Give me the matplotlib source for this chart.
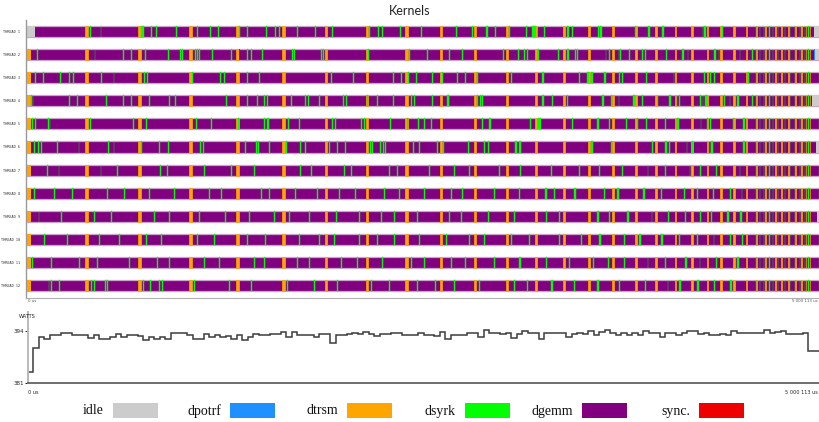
import matplotlib
matplotlib.use("Agg")
import matplotlib.pyplot as plt
from matplotlib.patches import Rectangle
import numpy as np

# time in ms, trace runs 0 -> 5 000 113 us
T_END = 5000.113

kinds = ["idle", "dpotrf", "dtrsm", "dsyrk", "dgemm", "sync."]
kind_colors = ["#cccccc", "#1e90ff", "#ffa500", "#00ff00", "#800080", "#ee0000"]
colors = dict(zip(kinds, kind_colors))

thread_names = ["THREAD %d" % i for i in range(1, 13)]

# dtrsm columns, shared by all threads (start ms, duration ms)
dtrsm_cols = [(372, 22), (707, 17), (1029, 17), (1325, 17), (1615, 17), (1887, 14),
              (2145, 14), (2392, 14), (2612, 13), (2827, 13), (3029, 13), (3212, 12),
              (3389, 12), (3546, 11), (3698, 11), (3843, 11), (3969, 10), (4089, 10),
              (4196, 10), (4291, 10), (4379, 9), (4461, 9), (4537, 9), (4600, 7),
              (4657, 7), (4720, 7), (4758, 6), (4802, 6), (4846, 6), (4884, 6),
              (4915, 5), (4941, 5)]

# dense dsyrk bursts at the end of the run
dsyrk_tail = [(4600, 4), (4625, 5), (4651, 4), (4688, 6), (4707, 4), (4739, 5),
              (4783, 4), (4815, 5), (4846, 4), (4878, 5), (4909, 4), (4930, 4)]

dsyrk = [
    # thread 1
    [(404, 7), (471, 3), (726, 19), (789, 8), (820, 9), (947, 3), (1079, 3), (1161, 7),
     (1212, 7), (1344, 3), (1395, 7), (1514, 7), (1571, 3), (1596, 7), (1710, 3),
     (1824, 7), (1931, 7), (2164, 3), (2221, 7), (2246, 7), (2360, 3), (2493, 3),
     (2713, 7), (2814, 3), (2903, 7), (2959, 3), (3048, 3), (3155, 3), (3193, 7),
     (3206, 7), (3269, 3), (3414, 7), (3445, 3), (3609, 7), (3622, 7), (3843, 3),
     (3925, 7), (4013, 7), (4266, 3), (4278, 7), (4386, 7)],
    # thread 2
    [(69, 7), (435, 3), (612, 3), (663, 3), (751, 7), (896, 3), (972, 7), (984, 3),
     (1066, 3), (1079, 7), (1092, 3), (1174, 3), (1294, 3), (1395, 7), (1420, 7),
     (1489, 7), (1679, 7), (1691, 7), (1861, 3), (1874, 3), (2158, 3), (2417, 3),
     (2530, 3), (2669, 7), (2751, 3), (3010, 7), (3105, 3), (3142, 3), (3161, 7),
     (3231, 3), (3357, 3), (3414, 7), (3464, 3), (3477, 3), (3654, 3), (3673, 7),
     (3736, 3), (3748, 3), (3799, 7), (3887, 3), (3900, 7), (4038, 3), (4139, 7),
     (4171, 3), (4341, 7), (4367, 3), (4499, 3), (4575, 7)],
    # thread 3
    [(57, 7), (107, 7), (215, 3), (271, 7), (297, 7), (473, 7), (555, 3), (745, 3),
     (764, 7), (1047, 3), (1224, 7), (1249, 7), (1395, 3), (1470, 3), (1925, 7),
     (2063, 7), (2316, 3), (2366, 3), (2410, 7), (2461, 7), (2562, 3), (2625, 7),
     (2720, 7), (2770, 3), (2846, 7), (3060, 7), (3256, 7), (3489, 3), (3540, 7),
     (3565, 7), (3647, 7), (3736, 7), (3761, 3), (3912, 3), (4083, 3), (4278, 3),
     (4310, 7), (4335, 7), (4550, 7)],
    # thread 4
    [(32, 3), (44, 3), (271, 7), (322, 3), (505, 3), (612, 3), (663, 3), (776, 7),
     (902, 3), (940, 3), (1262, 7), (1395, 3), (1458, 3), (1502, 7), (1521, 7),
     (1672, 3), (1760, 3), (1779, 3), (1849, 3), (2000, 7), (2019, 3), (2152, 7),
     (2215, 7), (2316, 3), (2429, 7), (2448, 7), (2562, 3), (2657, 7), (2663, 3),
     (2846, 3), (2865, 3), (2877, 3), (3256, 7), (3319, 3), (3414, 3), (3635, 7),
     (3691, 3), (3736, 3), (3830, 7), (3881, 7), (3982, 3), (4057, 7), (4102, 3),
     (4120, 3), (4247, 7), (4266, 3), (4284, 7), (4398, 7), (4436, 3), (4486, 7),
     (4575, 7)],
    # thread 5
    [(38, 3), (57, 7), (139, 3), (151, 3), (404, 7), (675, 7), (757, 3), (1073, 7),
     (1167, 3), (1338, 7), (1502, 7), (1521, 9), (1653, 7), (1723, 7), (1931, 3),
     (1950, 3), (2114, 7), (2133, 7), (2297, 3), (2404, 7), (2474, 3), (2511, 7),
     (2556, 3), (2877, 3), (2922, 7), (3180, 7), (3231, 7), (3243, 7), (3445, 3),
     (3603, 7), (3679, 3), (3786, 3), (3855, 3), (3912, 3), (4032, 3), (4102, 7),
     (4114, 3), (4253, 3), (4291, 7), (4310, 7), (4455, 7), (4524, 7)],
    # thread 6
    [(50, 7), (76, 3), (95, 3), (196, 7), (334, 3), (517, 7), (555, 3), (726, 7),
     (839, 3), (896, 3), (1098, 3), (1117, 7), (1382, 7), (1451, 7), (1464, 3),
     (1533, 3), (1641, 3), (1729, 3), (1760, 7), (1912, 7), (1962, 3), (2013, 3),
     (2171, 3), (2183, 7), (2234, 3), (2253, 3), (2265, 3), (2442, 3), (2480, 7),
     (2593, 3), (2631, 7), (2789, 3), (2890, 3), (2915, 3), (3086, 7), (3111, 7),
     (3565, 7), (3691, 3), (3944, 7), (4032, 7), (4057, 3), (4165, 3), (4202, 3),
     (4310, 3), (4322, 7), (4524, 7)],
    # thread 7
    [(133, 7), (208, 3), (473, 3), (574, 7), (846, 3), (890, 7), (1123, 3), (1294, 7),
     (1439, 3), (1729, 7), (1798, 3), (2007, 7), (2051, 3), (2291, 3), (2341, 7),
     (2543, 7), (2701, 3), (2795, 7), (2985, 3), (3117, 7), (3313, 3), (3489, 7),
     (3616, 3), (3755, 7), (3919, 3), (4026, 7), (4184, 3), (4247, 7), (4348, 7),
     (4499, 3)],
    # thread 8
    [(50, 7), (177, 3), (290, 7), (511, 3), (618, 7), (776, 3), (934, 7), (1155, 3),
     (1230, 7), (1483, 3), (1533, 7), (1697, 3), (1836, 7), (1975, 3), (2076, 7),
     (2259, 3), (2354, 7), (2511, 3), (2682, 7), (2751, 3), (2953, 7), (3111, 3),
     (3275, 7), (3332, 3), (3458, 7), (3647, 3), (3729, 7), (3893, 7), (4007, 3),
     (4146, 7), (4234, 3), (4329, 7), (4436, 7), (4512, 3)],
    # thread 9
    [(82, 3), (221, 7), (429, 3), (536, 7), (808, 7), (902, 3), (1092, 7), (1256, 3),
     (1407, 7), (1565, 3), (1660, 7), (1786, 3), (1956, 7), (2101, 3), (2240, 7),
     (2322, 3), (2467, 7), (2669, 3), (2745, 7), (2915, 3), (3079, 7), (3281, 7),
     (3363, 3), (3603, 7), (3679, 3), (3792, 7), (3944, 3), (4045, 7), (4158, 3),
     (4247, 7), (4322, 3), (4423, 7), (4505, 7)],
    # thread 10
    [(114, 7), (259, 3), (461, 7), (587, 3), (757, 3), (852, 7), (1079, 3), (1186, 7),
     (1395, 3), (1508, 7), (1723, 7), (1849, 3), (1944, 3), (2101, 7), (2215, 3),
     (2322, 7), (2480, 3), (2650, 7), (2795, 3), (2890, 7), (3060, 3), (3174, 7),
     (3363, 7), (3502, 3), (3616, 7), (3773, 3), (3868, 7), (4007, 7), (4120, 3),
     (4228, 7), (4335, 3), (4436, 7), (4512, 7)],
    # thread 11
    [(38, 3), (158, 7), (334, 7), (448, 3), (650, 7), (827, 3), (902, 7), (1123, 7),
     (1218, 3), (1439, 7), (1502, 3), (1710, 7), (1786, 3), (1988, 7), (2089, 3),
     (2246, 7), (2429, 3), (2511, 7), (2682, 3), (2770, 7), (2953, 3), (3111, 7),
     (3281, 3), (3426, 7), (3578, 3), (3667, 7), (3773, 7), (3919, 3), (4026, 7),
     (4158, 7), (4247, 3), (4348, 7), (4486, 7)],
    # thread 12
    [(145, 3), (158, 7), (208, 7), (410, 3), (429, 3), (498, 7), (511, 7), (738, 3),
     (782, 7), (839, 7), (858, 3), (1060, 7), (1281, 3), (1420, 7), (1647, 7),
     (1817, 3), (1962, 7), (2177, 3), (2291, 7), (2467, 3), (2581, 7), (2701, 3),
     (2858, 7), (3079, 3), (3161, 7), (3313, 7), (3458, 3), (3603, 7), (3742, 3),
     (3900, 7), (4045, 3), (4120, 7), (4234, 7), (4341, 3), (4442, 7)],
]

# first task of each thread, and idle / dpotrf at the end
start_idle = [(0, 57)] + [(0, 5)] * 11
start_dtrsm = [None] + [(5, 25)] * 11
end_idle = {0: (4966, 40), 1: (4975, 30), 3: (4953, 50), 5: (4980, 25), 8: (4985, 20)}
end_dpotrf = {1: (4968, 7), 5: (4972, 6)}
sync_events = {1: [(1344, 4)]}

# power samples (W), uniform sampling over the run
power_watts = [
    383.8, 389.8, 392.5, 392.0, 393.0, 393.0, 393.4, 393.4, 393.0, 393.0,
    393.1, 392.2, 392.9, 392.1, 392.1, 392.4, 393.3, 392.6, 393.1, 393.1,
    392.75, 391.7, 392.4, 392.0, 392.6, 392.0, 393.4, 393.4, 393.4, 392.9,
    392.0, 392.0, 393.25, 392.4, 392.9, 392.4, 392.75, 392.0, 392.9, 391.75,
    392.6, 393.2, 392.9, 392.9, 393.25, 393.25, 393.7, 392.4, 393.7, 393.1,
    393.1, 393.1, 392.6, 393.25, 393.25, 390.9, 393.1, 393.1, 393.25, 393.5,
    393.25, 393.7, 393.2, 392.7, 393.2, 393.2, 393.4, 393.4, 393.1, 392.9,
    392.9, 393.4, 393.1, 393.1, 392.7, 393.7, 392.0, 393.1, 393.1, 392.9,
    393.4, 393.4, 392.4, 394.2, 393.5, 393.5, 393.25, 393.6, 392.2, 393.2,
    393.9, 393.5, 393.5, 391.9, 393.5, 393.4, 393.4, 393.4, 392.6, 393.25,
    393.5, 393.25, 394.1, 393.1, 393.7, 394.2, 393.6, 392.9, 393.4, 392.9,
    393.5, 392.9, 393.9, 393.4, 393.4, 392.4, 393.4, 393.4, 393.1, 393.4,
    393.9, 393.9, 393.2, 393.6, 393.0, 393.0, 393.25, 393.1, 394.1, 393.4,
    393.4, 393.4, 393.4, 393.4, 394.3, 393.6, 393.75, 394.0, 393.2, 393.2,
    393.2, 393.4, 389.1, 389.1,
]

W, H = 819, 422
fig = plt.figure(figsize=(W / 100, H / 100), dpi=100)

fig.text(0.5, 1 - 11 / H, "Kernels", ha="center", va="center",
         family="Lato", size=9, color="#222222")

# ---- trace ----
ax = fig.add_axes([26 / W, 1 - 298 / H, 1 - 26 / W, 278 / H])
bar_h = 0.48
for i in range(12):
    y0 = i - bar_h / 2
    ax.broken_barh([(0, T_END)], (y0, bar_h), facecolors=colors["dgemm"],
                   edgecolors="#c9a3c9", linewidth=0.9)
    ax.broken_barh([start_idle[i]], (y0, bar_h), facecolors=colors["idle"], linewidth=0)
    if start_dtrsm[i]:
        ax.broken_barh([start_dtrsm[i]], (y0, bar_h), facecolors=colors["dtrsm"],
                       linewidth=0)
    ax.broken_barh(dtrsm_cols, (y0, bar_h), facecolors=colors["dtrsm"],
                   edgecolors=colors["dtrsm"], linewidth=0.5)
    ax.broken_barh(dsyrk[i] + dsyrk_tail, (y0, bar_h), facecolors=colors["dsyrk"],
                   edgecolors=colors["dsyrk"], linewidth=0.3)
    if i in sync_events:
        ax.broken_barh(sync_events[i], (y0, bar_h), facecolors=colors["sync."],
                       linewidth=0)
    if i in end_idle:
        ax.broken_barh([end_idle[i]], (y0, bar_h), facecolors=colors["idle"],
                       linewidth=0)
    if i in end_dpotrf:
        ax.broken_barh([end_dpotrf[i]], (y0, bar_h), facecolors=colors["dpotrf"],
                       linewidth=0)

ax.set_xlim(0, T_END)
ax.set_ylim(11.54, -0.5)
ax.set_yticks(range(12))
ax.set_yticklabels(thread_names, family="DejaVu Sans Mono", size=2.6, color="#333333")
ax.tick_params(axis="y", length=0, pad=4)
ax.set_xticks([])
for s in ["top", "right"]:
    ax.spines[s].set_visible(False)
ax.spines["left"].set_color("#999999")
ax.spines["bottom"].set_color("#b0b0b0")
ax.spines["left"].set_linewidth(1.0)
ax.spines["bottom"].set_linewidth(0.8)
fig.text(28 / W, 1 - 301 / H, "0 us", ha="left", va="center", size=2.8, color="#555555")
fig.text(818 / W, 1 - 301 / H, "5 000 113 us", ha="right", va="center", size=2.8,
         color="#555555")

# ---- power ----
pax = fig.add_axes([28 / W, 1 - 383 / H, 1 - 28 / W, 71 / H])
edges = np.linspace(0, T_END, len(power_watts) + 1)
pax.stairs(power_watts, edges, color="#3c3c3c", linewidth=1.1, baseline=None)
pax.plot([0, 0], [381, power_watts[0]], color="#3c3c3c", linewidth=1.1)
pax.set_xlim(0, T_END)
pax.set_ylim(381, 398.75)
pax.set_yticks([381, 394])
pax.set_yticklabels(["381", "394"], size=4, color="#222222")
pax.tick_params(axis="y", length=2, width=0.6, pad=1)
pax.set_xticks([])
for s in ["top", "right"]:
    pax.spines[s].set_visible(False)
pax.spines["left"].set_color("#bbbbbb")
pax.spines["left"].set_linewidth(1.4)
pax.spines["bottom"].set_color("#555555")
pax.spines["bottom"].set_linewidth(1.2)
fig.text(27 / W, 1 - 316 / H, "WATTS", ha="center", va="center", size=3.6,
         color="#222222")
fig.text(28 / W, 1 - 393 / H, "0 us", ha="left", va="center", size=3.6, color="#222222")
fig.text(818 / W, 1 - 393 / H, "5 000 113 us", ha="right", va="center", size=3.6,
         color="#222222")

# ---- legend ----
for k, (name, c) in enumerate(zip(kinds, kind_colors)):
    sx = 113 + 117.2 * k
    fig.add_artist(Rectangle((sx / W, 1 - 418 / H), 45 / W, 15 / H, facecolor=c,
                             edgecolor="none", transform=fig.transFigure))
    fig.text((sx - 9) / W, 1 - 411 / H, name, ha="right", va="center",
             family="Liberation Serif", size=10, color="#111111")

fig.savefig("out.png", dpi=100)
